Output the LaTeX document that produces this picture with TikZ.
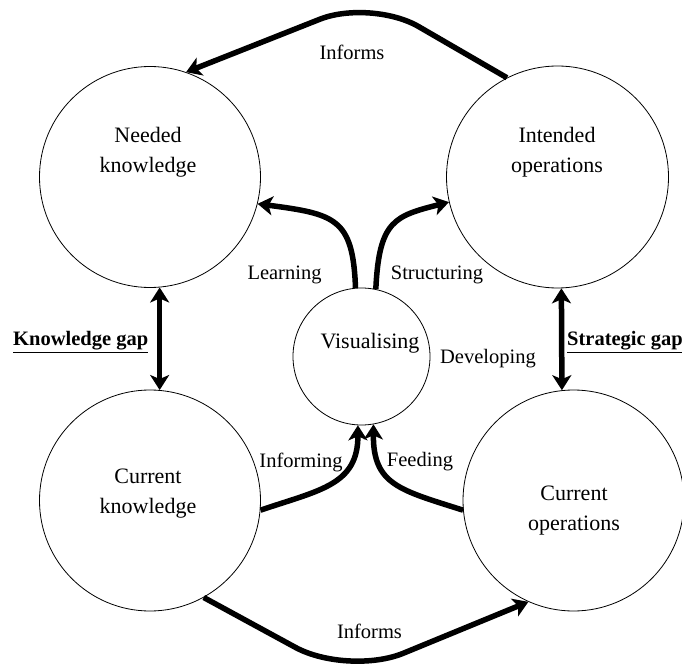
\documentclass[tikz,border=0pt]{standalone}
\usepackage{fontspec}
\setmainfont{Liberation Serif}
\usetikzlibrary{arrows.meta}
\begin{document}
\begin{tikzpicture}[x=1pt,y=-1pt,
  circ/.style={circle,draw,line width=0.8pt,inner sep=0pt},
  ctext/.style={align=center,font=\fontsize{22}{30}\selectfont,inner sep=0pt},
  lbl/.style={font=\fontsize{20.5}{24}\selectfont,inner sep=0pt},
  gaplbl/.style={font=\fontsize{20.5}{24}\selectfont\bfseries,inner sep=0pt,anchor=west},
  tip/.tip={Stealth[length=15pt,width=19pt,inset=4pt]},
  flow/.style={line width=5.5pt,-tip},
  dflow/.style={line width=5.5pt,tip-tip},
]
\useasboundingbox (0,0) rectangle (682,668);
\fill[white] (0,0) rectangle (682,668);

% circles
\node[circ,minimum size=221pt] (nk) at (150,177) {};
\node[circ,minimum size=222pt] (io) at (557.5,177) {};
\node[circ,minimum size=137pt] (vis) at (361.5,356.5) {};
\node[circ,minimum size=221pt] (ck) at (150,500.5) {};
\node[circ,minimum size=221pt] (co) at (573.5,500.5) {};

% circle texts
\node[ctext] (nkt) at (148,152) {Needed\\knowledge};
\node[ctext] (iot) at (557,152) {Intended\\operations};
\node[ctext] (vist) at (370,343) {Visualising};
\node[ctext] (ckt) at (148,494) {Current\\knowledge};
\node[ctext] (cot) at (574,511) {Current\\operations};

% labels
\node[lbl] (inf1) at (352,52) {Informs};
\node[lbl] (inf2) at (369.5,631) {Informs};
\node[lbl] (learn) at (284.5,275) {Learning};
\node[lbl] (struct) at (437,275) {Structuring};
\node[lbl] (dev) at (488,359) {Developing};
\node[lbl] (infg) at (301,462) {Informing};
\node[lbl] (feed) at (420,462) {Feeding};
\node[gaplbl] (kg) at (13,342) {\underline{Knowledge gap}};
\node[gaplbl] (sg) at (567,342) {\underline{Strategic gap}};

% connectors
\coordinate (topc) at (371,-1);
\coordinate (botc) at (348,676);
\draw[flow,rounded corners=55pt] (io.117) -- (topc) -- (nk.71);
\draw[flow,rounded corners=60pt] (ck.-61) -- (botc) -- (co.246);
\draw[flow] (vis.95) .. controls (353,218) and (335,214) .. (nk.-14);
\draw[flow] (vis.78) .. controls (379,220) and (395,216) .. (io.193);
\draw[flow] (ck.-5) .. controls (320,490) and (358,485) .. (vis.267);
\draw[flow] (co.185) .. controls (400,490) and (373,485) .. (vis.280);
\draw[dflow] (nk.275) -- (ck.85);
\draw[dflow] (io.272) -- (co.96);
\end{tikzpicture}
\end{document}
